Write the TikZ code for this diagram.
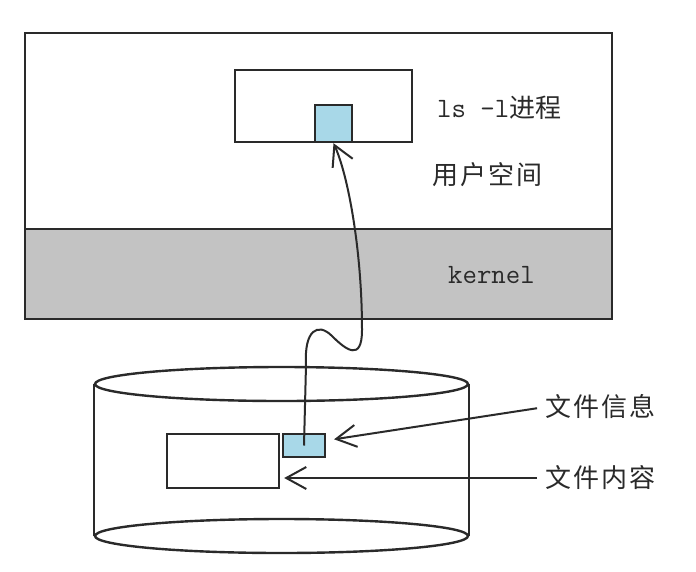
\documentclass[tikz,border=0pt]{standalone}
\usepackage{fontspec}
\newfontfamily\cjk[LetterSpace=8]{Noto Sans CJK SC}
\newfontfamily\cjkn{Noto Sans CJK SC}
\usetikzlibrary{arrows.meta,shapes.geometric}
\definecolor{ink}{HTML}{2A2A2A}
\definecolor{skyblue}{HTML}{A8D8E8}
\definecolor{kgray}{HTML}{C3C3C3}

\begin{document}
\begin{tikzpicture}[x=1pt,y=-1pt,
  b/.style={draw=ink,line width=2.4pt,fill=white,inner sep=0pt},
  q/.style={b,fill=skyblue},
  e/.style={draw=ink,line width=2.4pt,ellipse,inner sep=0pt},
  t/.style={font=\cjk\fontsize{26}{30}\selectfont,text=ink,anchor=west,inner sep=0pt},
  m/.style={t,font=\ttfamily\fontsize{28}{30}\selectfont},
  a/.style={draw=ink,line width=2pt,-{Straight Barb[length=20pt,width=22pt]}}]

\useasboundingbox (0,0) rectangle (696,571);

% user space and kernel
\node[b,minimum width=587pt,minimum height=286pt] (user) at (318.5,176) {};
\node[b,fill=kgray,minimum width=587pt,minimum height=90pt] (kern) at (318.5,274) {};
\node[b,minimum width=177pt,minimum height=72pt] (proc) at (323.5,106) {};
\node[q,minimum width=37pt,minimum height=37pt] (sq) at (333.5,123.5) {};

\node[m] (lsl) at (437,108) {ls -l{\cjkn\fontsize{26}{30}\selectfont 进程}};
\node[t] (usp) at (432,175) {用户空间};
\node[m] (kl)  at (448,275) {kernel};

% disk
\node[e,minimum width=373pt,minimum height=34pt] (top) at (281.5,384) {};
\node[e,minimum width=373pt,minimum height=34pt] (bot) at (281.5,536) {};
\draw[ink,line width=2.4pt] (top.west) -- (bot.west) (top.east) -- (bot.east);

\node[b,minimum width=112pt,minimum height=54pt] (cnt) at (223,461) {};
\node[q,minimum width=42pt,minimum height=23pt] (info) at (304,445.5) {};

\node[t] (infol) at (545,407) {文件信息};
\node[t] (cntl)  at (545,478) {文件内容};

\draw[a,shorten <=8pt,shorten >=8pt] (infol.west) -- ([yshift=5pt]info.east);
\draw[a,shorten <=8pt,shorten >=4pt] (cntl.west) -- (cntl.west -| cnt.east);

% metadata read up into the process
\draw[a] (info.center) -- (306,365) .. controls (304,330) and (318,322) .. (332,336)
  .. controls (346,350) and (362,362) .. (362,330)
  .. controls (362,250) and (348,175) .. (sq.south);
\end{tikzpicture}
\end{document}
